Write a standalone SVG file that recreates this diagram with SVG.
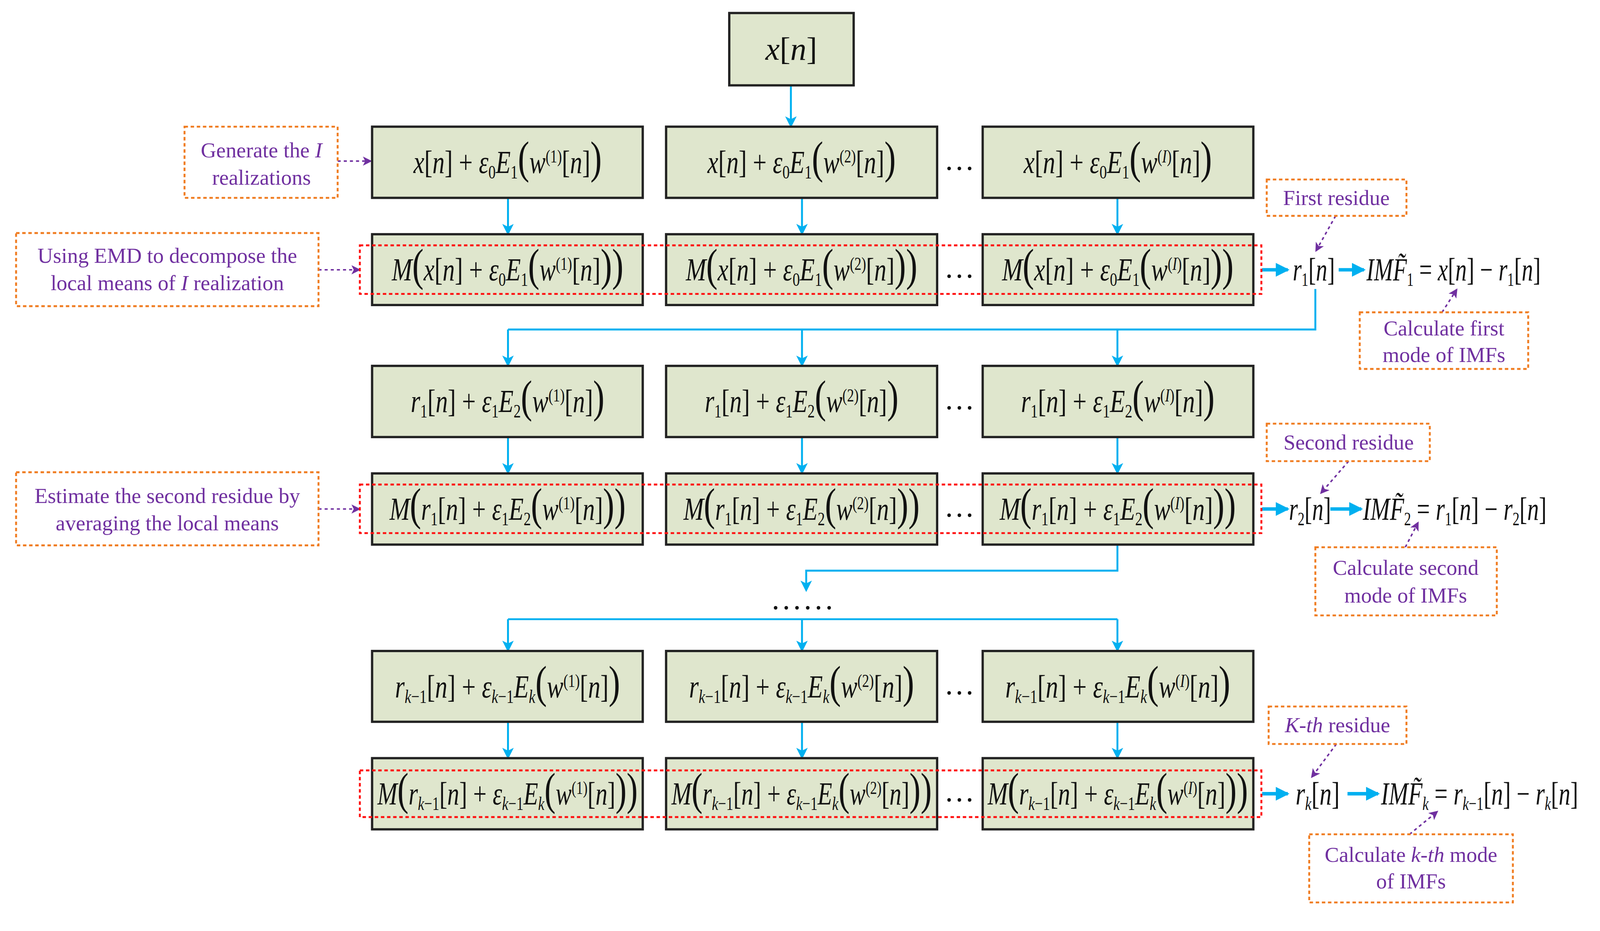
<svg xmlns="http://www.w3.org/2000/svg" width="4154" height="2384" viewBox="0 0 4154 2384">
<style>
.bx{fill:#dfe6cd;stroke:#222;stroke-width:6}
.rd{fill:none;stroke:#ff1010;stroke-width:5;stroke-dasharray:9 7}
.ob{fill:#fff;stroke:#f07d22;stroke-width:5;stroke-dasharray:9 7}
.c{fill:none;stroke:#00b0f0;stroke-width:5}
.ct{fill:none;stroke:#00b0f0;stroke-width:9}
.pa{fill:none;stroke:#7030a0;stroke-width:4;stroke-dasharray:8 8}
.f{font-family:"Liberation Serif","DejaVu Serif",serif;font-style:italic;font-size:84px;fill:#111;text-anchor:middle}
.u{font-style:normal}
.b{font-size:50px;font-style:normal}
.bi{font-size:50px}
.t{font-size:48px;font-style:normal}
.p{font-style:normal;font-size:118px}
.a{font-family:"Liberation Serif",serif;font-size:56px;fill:#7030a0;text-anchor:middle}
.d{font-family:"Liberation Serif",serif;font-size:80px;fill:#111;text-anchor:middle}
</style>
<defs>
<marker id="ac" markerWidth="6" markerHeight="6" refX="5" refY="3" orient="auto" markerUnits="strokeWidth"><path d="M0,0 L6,3 L0,6 L1.5,3 Z" fill="#00b0f0"/></marker>
<marker id="at" markerWidth="4" markerHeight="4" refX="3.5" refY="2" orient="auto" markerUnits="strokeWidth"><path d="M0,0 L4,2 L0,4 Z" fill="#00b0f0"/></marker>
<marker id="ap" markerWidth="6" markerHeight="6" refX="5" refY="3" orient="auto" markerUnits="strokeWidth"><path d="M0,0 L6,3 L0,6 L1.5,3 Z" fill="#7030a0"/></marker>
</defs>
<g transform="scale(0.98)">
<g id="connectors">
<path class="c" d="M2066,223 V329" marker-end="url(#ac)"/>
<path class="c" d="M1327,517 V610" marker-end="url(#ac)"/>
<path class="c" d="M2095,517 V610" marker-end="url(#ac)"/>
<path class="c" d="M2919,517 V610" marker-end="url(#ac)"/>
<path class="c" d="M3436,755 V861 H1327"/>
<path class="c" d="M1327,861 V954" marker-end="url(#ac)"/>
<path class="c" d="M2095,861 V954" marker-end="url(#ac)"/>
<path class="c" d="M2919,861 V954" marker-end="url(#ac)"/>
<path class="c" d="M1327,1142 V1235" marker-end="url(#ac)"/>
<path class="c" d="M2095,1142 V1235" marker-end="url(#ac)"/>
<path class="c" d="M2919,1142 V1235" marker-end="url(#ac)"/>
<path class="c" d="M2919,1423 V1491 H2106 V1542" marker-end="url(#ac)"/>
<path class="c" d="M1327,1618 H2919"/>
<path class="c" d="M1327,1618 V1699" marker-end="url(#ac)"/>
<path class="c" d="M2095,1618 V1699" marker-end="url(#ac)"/>
<path class="c" d="M2919,1618 V1699" marker-end="url(#ac)"/>
<path class="c" d="M1327,1886 V1979" marker-end="url(#ac)"/>
<path class="c" d="M2095,1886 V1979" marker-end="url(#ac)"/>
<path class="c" d="M2919,1886 V1979" marker-end="url(#ac)"/>
<path class="ct" d="M3297,705 H3364" marker-end="url(#at)"/>
<path class="ct" d="M3497,705 H3563" marker-end="url(#at)"/>
<path class="ct" d="M3297,1330 H3364" marker-end="url(#at)"/>
<path class="ct" d="M3475,1330 H3556" marker-end="url(#at)"/>
<path class="ct" d="M3297,2074 H3364" marker-end="url(#at)"/>
<path class="ct" d="M3520,2074 H3600" marker-end="url(#at)"/>
<path class="pa" d="M882,421 H968" marker-end="url(#ap)"/>
<path class="pa" d="M832,705 H938" marker-end="url(#ap)"/>
<path class="pa" d="M832,1330 H938" marker-end="url(#ap)"/>
<path class="pa" d="M3489,564 L3438,655" marker-end="url(#ap)"/>
<path class="pa" d="M3767,816 L3805,757" marker-end="url(#ap)"/>
<path class="pa" d="M3523,1205 L3451,1288" marker-end="url(#ap)"/>
<path class="pa" d="M3671,1430 L3704,1366" marker-end="url(#ap)"/>
<path class="pa" d="M3491,1944 L3427,2030" marker-end="url(#ap)"/>
<path class="pa" d="M3682,2180 L3754,2121" marker-end="url(#ap)"/>
</g>
<g id="n0"><rect class="bx" x="1905" y="34" width="325" height="189"/><text class="f" x="2067" y="156">x<tspan class="u">[</tspan>n<tspan class="u">]</tspan></text></g>
<g id="row1">
<rect class="bx" x="972" y="331" width="707" height="186"/>
<rect class="bx" x="1740" y="331" width="708" height="186"/>
<rect class="bx" x="2567" y="331" width="707" height="186"/>
<text class="f" x="1326" y="452" textLength="492" lengthAdjust="spacingAndGlyphs">x<tspan class="u">[</tspan>n<tspan class="u">] + </tspan>ε<tspan class="b" baseline-shift="-14">0</tspan>E<tspan class="b" baseline-shift="-14">1</tspan><tspan class="p">(</tspan>w<tspan class="t" baseline-shift="28">(1)</tspan><tspan class="u">[</tspan>n<tspan class="u">]</tspan><tspan class="p">)</tspan></text>
<text class="f" x="2094" y="452" textLength="492" lengthAdjust="spacingAndGlyphs">x<tspan class="u">[</tspan>n<tspan class="u">] + </tspan>ε<tspan class="b" baseline-shift="-14">0</tspan>E<tspan class="b" baseline-shift="-14">1</tspan><tspan class="p">(</tspan>w<tspan class="t" baseline-shift="28">(2)</tspan><tspan class="u">[</tspan>n<tspan class="u">]</tspan><tspan class="p">)</tspan></text>
<text class="f" x="2920" y="452" textLength="492" lengthAdjust="spacingAndGlyphs">x<tspan class="u">[</tspan>n<tspan class="u">] + </tspan>ε<tspan class="b" baseline-shift="-14">0</tspan>E<tspan class="b" baseline-shift="-14">1</tspan><tspan class="p">(</tspan>w<tspan class="t" baseline-shift="28">(<tspan font-style="italic">I</tspan>)</tspan><tspan class="u">[</tspan>n<tspan class="u">]</tspan><tspan class="p">)</tspan></text>
<text class="d" x="2506" y="444">…</text>
</g>
<g id="row2">
<rect class="bx" x="972" y="612" width="707" height="185"/>
<rect class="bx" x="1740" y="612" width="708" height="185"/>
<rect class="bx" x="2567" y="612" width="707" height="185"/>
<rect class="rd" x="940" y="641" width="2355" height="127"/>
<text class="f" x="1326" y="733" textLength="605" lengthAdjust="spacingAndGlyphs">M<tspan class="p">(</tspan>x<tspan class="u">[</tspan>n<tspan class="u">] + </tspan>ε<tspan class="b" baseline-shift="-14">0</tspan>E<tspan class="b" baseline-shift="-14">1</tspan><tspan class="p">(</tspan>w<tspan class="t" baseline-shift="28">(1)</tspan><tspan class="u">[</tspan>n<tspan class="u">]</tspan><tspan class="p">))</tspan></text>
<text class="f" x="2094" y="733" textLength="605" lengthAdjust="spacingAndGlyphs">M<tspan class="p">(</tspan>x<tspan class="u">[</tspan>n<tspan class="u">] + </tspan>ε<tspan class="b" baseline-shift="-14">0</tspan>E<tspan class="b" baseline-shift="-14">1</tspan><tspan class="p">(</tspan>w<tspan class="t" baseline-shift="28">(2)</tspan><tspan class="u">[</tspan>n<tspan class="u">]</tspan><tspan class="p">))</tspan></text>
<text class="f" x="2920" y="733" textLength="605" lengthAdjust="spacingAndGlyphs">M<tspan class="p">(</tspan>x<tspan class="u">[</tspan>n<tspan class="u">] + </tspan>ε<tspan class="b" baseline-shift="-14">0</tspan>E<tspan class="b" baseline-shift="-14">1</tspan><tspan class="p">(</tspan>w<tspan class="t" baseline-shift="28">(<tspan font-style="italic">I</tspan>)</tspan><tspan class="u">[</tspan>n<tspan class="u">]</tspan><tspan class="p">))</tspan></text>
<text class="d" x="2506" y="725">…</text>
</g>
<g id="row3">
<rect class="bx" x="972" y="956" width="707" height="186"/>
<rect class="bx" x="1740" y="956" width="708" height="186"/>
<rect class="bx" x="2567" y="956" width="707" height="186"/>
<text class="f" x="1326" y="1077" textLength="506" lengthAdjust="spacingAndGlyphs">r<tspan class="b" baseline-shift="-14">1</tspan><tspan class="u">[</tspan>n<tspan class="u">] + </tspan>ε<tspan class="b" baseline-shift="-14">1</tspan>E<tspan class="b" baseline-shift="-14">2</tspan><tspan class="p">(</tspan>w<tspan class="t" baseline-shift="28">(1)</tspan><tspan class="u">[</tspan>n<tspan class="u">]</tspan><tspan class="p">)</tspan></text>
<text class="f" x="2094" y="1077" textLength="506" lengthAdjust="spacingAndGlyphs">r<tspan class="b" baseline-shift="-14">1</tspan><tspan class="u">[</tspan>n<tspan class="u">] + </tspan>ε<tspan class="b" baseline-shift="-14">1</tspan>E<tspan class="b" baseline-shift="-14">2</tspan><tspan class="p">(</tspan>w<tspan class="t" baseline-shift="28">(2)</tspan><tspan class="u">[</tspan>n<tspan class="u">]</tspan><tspan class="p">)</tspan></text>
<text class="f" x="2920" y="1077" textLength="506" lengthAdjust="spacingAndGlyphs">r<tspan class="b" baseline-shift="-14">1</tspan><tspan class="u">[</tspan>n<tspan class="u">] + </tspan>ε<tspan class="b" baseline-shift="-14">1</tspan>E<tspan class="b" baseline-shift="-14">2</tspan><tspan class="p">(</tspan>w<tspan class="t" baseline-shift="28">(<tspan font-style="italic">I</tspan>)</tspan><tspan class="u">[</tspan>n<tspan class="u">]</tspan><tspan class="p">)</tspan></text>
<text class="d" x="2506" y="1069">…</text>
</g>
<g id="row4">
<rect class="bx" x="972" y="1237" width="707" height="186"/>
<rect class="bx" x="1740" y="1237" width="708" height="186"/>
<rect class="bx" x="2567" y="1237" width="707" height="186"/>
<rect class="rd" x="940" y="1266" width="2355" height="127"/>
<text class="f" x="1326" y="1358" textLength="617" lengthAdjust="spacingAndGlyphs">M<tspan class="p">(</tspan>r<tspan class="b" baseline-shift="-14">1</tspan><tspan class="u">[</tspan>n<tspan class="u">] + </tspan>ε<tspan class="b" baseline-shift="-14">1</tspan>E<tspan class="b" baseline-shift="-14">2</tspan><tspan class="p">(</tspan>w<tspan class="t" baseline-shift="28">(1)</tspan><tspan class="u">[</tspan>n<tspan class="u">]</tspan><tspan class="p">))</tspan></text>
<text class="f" x="2094" y="1358" textLength="617" lengthAdjust="spacingAndGlyphs">M<tspan class="p">(</tspan>r<tspan class="b" baseline-shift="-14">1</tspan><tspan class="u">[</tspan>n<tspan class="u">] + </tspan>ε<tspan class="b" baseline-shift="-14">1</tspan>E<tspan class="b" baseline-shift="-14">2</tspan><tspan class="p">(</tspan>w<tspan class="t" baseline-shift="28">(2)</tspan><tspan class="u">[</tspan>n<tspan class="u">]</tspan><tspan class="p">))</tspan></text>
<text class="f" x="2920" y="1358" textLength="617" lengthAdjust="spacingAndGlyphs">M<tspan class="p">(</tspan>r<tspan class="b" baseline-shift="-14">1</tspan><tspan class="u">[</tspan>n<tspan class="u">] + </tspan>ε<tspan class="b" baseline-shift="-14">1</tspan>E<tspan class="b" baseline-shift="-14">2</tspan><tspan class="p">(</tspan>w<tspan class="t" baseline-shift="28">(<tspan font-style="italic">I</tspan>)</tspan><tspan class="u">[</tspan>n<tspan class="u">]</tspan><tspan class="p">))</tspan></text>
<text class="d" x="2506" y="1350">…</text>
</g>
<text id="dots" class="d" x="2100" y="1592" letter-spacing="8">......</text>
<g id="row5">
<rect class="bx" x="972" y="1701" width="707" height="185"/>
<rect class="bx" x="1740" y="1701" width="708" height="185"/>
<rect class="bx" x="2567" y="1701" width="707" height="185"/>
<text class="f" x="1326" y="1822" textLength="588" lengthAdjust="spacingAndGlyphs">r<tspan class="bi" baseline-shift="-14">k<tspan class="u">−1</tspan></tspan><tspan class="u">[</tspan>n<tspan class="u">] + </tspan>ε<tspan class="bi" baseline-shift="-14">k<tspan class="u">−1</tspan></tspan>E<tspan class="bi" baseline-shift="-14">k</tspan><tspan class="p">(</tspan>w<tspan class="t" baseline-shift="28">(1)</tspan><tspan class="u">[</tspan>n<tspan class="u">]</tspan><tspan class="p">)</tspan></text>
<text class="f" x="2094" y="1822" textLength="588" lengthAdjust="spacingAndGlyphs">r<tspan class="bi" baseline-shift="-14">k<tspan class="u">−1</tspan></tspan><tspan class="u">[</tspan>n<tspan class="u">] + </tspan>ε<tspan class="bi" baseline-shift="-14">k<tspan class="u">−1</tspan></tspan>E<tspan class="bi" baseline-shift="-14">k</tspan><tspan class="p">(</tspan>w<tspan class="t" baseline-shift="28">(2)</tspan><tspan class="u">[</tspan>n<tspan class="u">]</tspan><tspan class="p">)</tspan></text>
<text class="f" x="2920" y="1822" textLength="588" lengthAdjust="spacingAndGlyphs">r<tspan class="bi" baseline-shift="-14">k<tspan class="u">−1</tspan></tspan><tspan class="u">[</tspan>n<tspan class="u">] + </tspan>ε<tspan class="bi" baseline-shift="-14">k<tspan class="u">−1</tspan></tspan>E<tspan class="bi" baseline-shift="-14">k</tspan><tspan class="p">(</tspan>w<tspan class="t" baseline-shift="28">(<tspan font-style="italic">I</tspan>)</tspan><tspan class="u">[</tspan>n<tspan class="u">]</tspan><tspan class="p">)</tspan></text>
<text class="d" x="2506" y="1814">…</text>
</g>
<g id="row6">
<rect class="bx" x="972" y="1981" width="707" height="186"/>
<rect class="bx" x="1740" y="1981" width="708" height="186"/>
<rect class="bx" x="2567" y="1981" width="707" height="186"/>
<rect class="rd" x="940" y="2013" width="2355" height="122"/>
<text class="f" x="1326" y="2102" textLength="680" lengthAdjust="spacingAndGlyphs">M<tspan class="p">(</tspan>r<tspan class="bi" baseline-shift="-14">k<tspan class="u">−1</tspan></tspan><tspan class="u">[</tspan>n<tspan class="u">] + </tspan>ε<tspan class="bi" baseline-shift="-14">k<tspan class="u">−1</tspan></tspan>E<tspan class="bi" baseline-shift="-14">k</tspan><tspan class="p">(</tspan>w<tspan class="t" baseline-shift="28">(1)</tspan><tspan class="u">[</tspan>n<tspan class="u">]</tspan><tspan class="p">))</tspan></text>
<text class="f" x="2094" y="2102" textLength="680" lengthAdjust="spacingAndGlyphs">M<tspan class="p">(</tspan>r<tspan class="bi" baseline-shift="-14">k<tspan class="u">−1</tspan></tspan><tspan class="u">[</tspan>n<tspan class="u">] + </tspan>ε<tspan class="bi" baseline-shift="-14">k<tspan class="u">−1</tspan></tspan>E<tspan class="bi" baseline-shift="-14">k</tspan><tspan class="p">(</tspan>w<tspan class="t" baseline-shift="28">(2)</tspan><tspan class="u">[</tspan>n<tspan class="u">]</tspan><tspan class="p">))</tspan></text>
<text class="f" x="2920" y="2102" textLength="680" lengthAdjust="spacingAndGlyphs">M<tspan class="p">(</tspan>r<tspan class="bi" baseline-shift="-14">k<tspan class="u">−1</tspan></tspan><tspan class="u">[</tspan>n<tspan class="u">] + </tspan>ε<tspan class="bi" baseline-shift="-14">k<tspan class="u">−1</tspan></tspan>E<tspan class="bi" baseline-shift="-14">k</tspan><tspan class="p">(</tspan>w<tspan class="t" baseline-shift="28">(<tspan font-style="italic">I</tspan>)</tspan><tspan class="u">[</tspan>n<tspan class="u">]</tspan><tspan class="p">))</tspan></text>
<text class="d" x="2506" y="2094">…</text>
</g>
<g id="outputs">
<text class="f" x="3432" y="733" textLength="110" lengthAdjust="spacingAndGlyphs">r<tspan class="b" baseline-shift="-14">1</tspan><tspan class="u">[</tspan>n<tspan class="u">]</tspan></text>
<text class="f" x="3797" y="733" textLength="455" lengthAdjust="spacingAndGlyphs">IMF̃<tspan class="b" baseline-shift="-14">1</tspan><tspan class="u"> = </tspan>x<tspan class="u">[</tspan>n<tspan class="u">] − </tspan>r<tspan class="b" baseline-shift="-14">1</tspan><tspan class="u">[</tspan>n<tspan class="u">]</tspan></text>
<text class="f" x="3422" y="1358" textLength="110" lengthAdjust="spacingAndGlyphs">r<tspan class="b" baseline-shift="-14">2</tspan><tspan class="u">[</tspan>n<tspan class="u">]</tspan></text>
<text class="f" x="3800" y="1358" textLength="480" lengthAdjust="spacingAndGlyphs">IMF̃<tspan class="b" baseline-shift="-14">2</tspan><tspan class="u"> = </tspan>r<tspan class="b" baseline-shift="-14">1</tspan><tspan class="u">[</tspan>n<tspan class="u">] − </tspan>r<tspan class="b" baseline-shift="-14">2</tspan><tspan class="u">[</tspan>n<tspan class="u">]</tspan></text>
<text class="f" x="3442" y="2102" textLength="115" lengthAdjust="spacingAndGlyphs">r<tspan class="bi" baseline-shift="-14">k</tspan><tspan class="u">[</tspan>n<tspan class="u">]</tspan></text>
<text class="f" x="3865" y="2102" textLength="515" lengthAdjust="spacingAndGlyphs">IMF̃<tspan class="bi" baseline-shift="-14">k</tspan><tspan class="u"> = </tspan>r<tspan class="bi" baseline-shift="-14">k<tspan class="u">−1</tspan></tspan><tspan class="u">[</tspan>n<tspan class="u">] − </tspan>r<tspan class="bi" baseline-shift="-14">k</tspan><tspan class="u">[</tspan>n<tspan class="u">]</tspan></text>
</g>
<g id="ann1"><rect class="ob" x="482" y="331" width="400" height="186"/><text class="a" x="683" y="411">Generate the <tspan font-style="italic">I</tspan></text><text class="a" x="683" y="483">realizations</text></g>
<g id="ann2"><rect class="ob" x="42" y="609" width="790" height="191"/><text class="a" x="437" y="687">Using EMD to decompose the</text><text class="a" x="437" y="758">local means of <tspan font-style="italic">I</tspan> realization</text></g>
<g id="ann3"><rect class="ob" x="42" y="1234" width="790" height="191"/><text class="a" x="437" y="1314">Estimate the second residue by</text><text class="a" x="437" y="1386">averaging the local means</text></g>
<g id="ann4"><rect class="ob" x="3309" y="469" width="365" height="95"/><text class="a" x="3491" y="536">First residue</text></g>
<g id="ann5"><rect class="ob" x="3552" y="816" width="440" height="148"/><text class="a" x="3772" y="877">Calculate first</text><text class="a" x="3772" y="946">mode of IMFs</text></g>
<g id="ann6"><rect class="ob" x="3309" y="1107" width="426" height="98"/><text class="a" x="3523" y="1174">Second residue</text></g>
<g id="ann7"><rect class="ob" x="3436" y="1430" width="474" height="178"/><text class="a" x="3672" y="1502">Calculate second</text><text class="a" x="3672" y="1574">mode of IMFs</text></g>
<g id="ann8"><rect class="ob" x="3314" y="1846" width="360" height="98"/><text class="a" x="3494" y="1913"><tspan font-style="italic">K-th</tspan> residue</text></g>
<g id="ann9"><rect class="ob" x="3420" y="2180" width="532" height="178"/><text class="a" x="3686" y="2252">Calculate <tspan font-style="italic">k-th</tspan> mode</text><text class="a" x="3686" y="2321">of IMFs</text></g>
</g>
</svg>
